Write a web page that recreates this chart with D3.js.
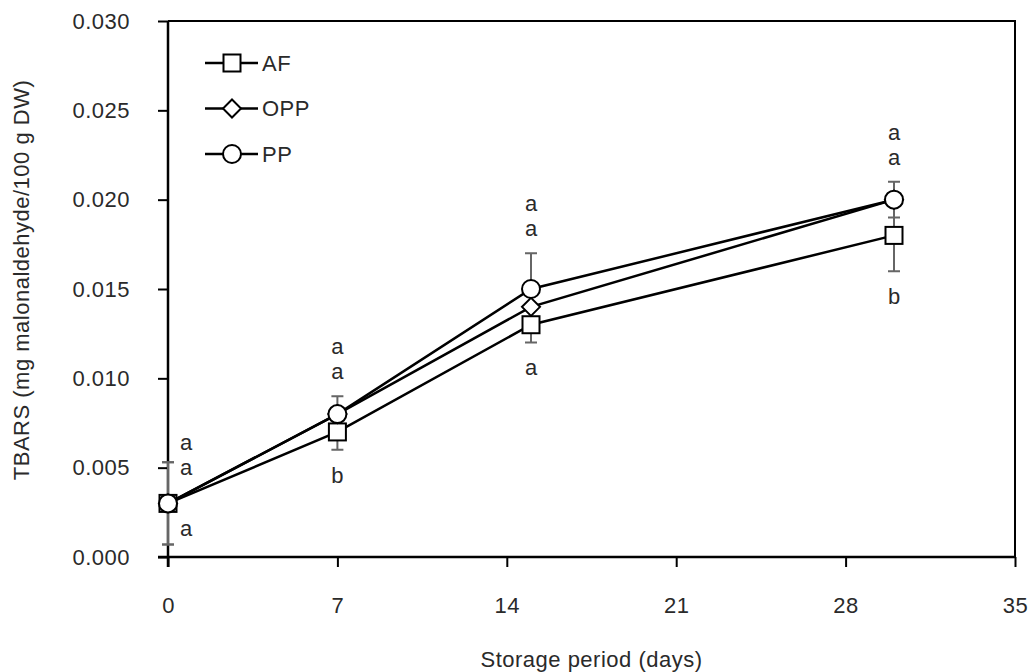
<!DOCTYPE html>
<html>
<head>
<meta charset="utf-8">
<script src="https://cdn.jsdelivr.net/npm/d3@7"></script>
<style>
  body { margin: 0; background: #fff; }
  svg text { font-family: "Liberation Sans", Arial, sans-serif; fill: #2a2a2a; }
</style>
</head>
<body>
<svg id="chart" width="1032" height="672"></svg>
<script>
// storage days and TBARS values
const days = [0, 7, 15, 30];
const afValues = [0.003, 0.007, 0.013, 0.018];
const oppValues = [0.003, 0.008, 0.014, 0.020];
const ppValues = [0.003, 0.008, 0.015, 0.020];
const afErrors = [0.0023, 0.001, 0.001, 0.002];
const ppErrors = [0.0023, 0.001, 0.002, 0.001];
const seriesNames = ["AF", "OPP", "PP"];
const lettersTop = ["a", "a", "a", "a"];
const lettersMid = ["a", "a", "a", "a"];
const lettersBottom = ["a", "b", "a", "b"];
const xTicks = [0, 7, 14, 21, 28, 35];
const yTicks = [0, 0.005, 0.010, 0.015, 0.020, 0.025, 0.030];

let svg = d3.select('#chart');
let width = +svg.attr('width');
let height = +svg.attr('height');
let margin = { top: 21, right: 17, bottom: 115, left: 168 };

let x = d3.scaleLinear()
  .domain([0, 35])
  .range([margin.left, width - margin.right]);
let y = d3.scaleLinear()
  .domain([0, 0.030])
  .range([height - margin.bottom, margin.top]);

const series = [
  { name: seriesNames[0], values: afValues, errors: afErrors, shape: "square" },
  { name: seriesNames[1], values: oppValues, errors: null, shape: "diamond" },
  { name: seriesNames[2], values: ppValues, errors: ppErrors, shape: "circle" }
];

const fontSize = 22;
const spacing = "0.5px";

// frame (top and right)
svg.append("path")
  .attr("d", `M${x(0)},${y(0.030)}H${x(35)}V${y(0)}`)
  .attr("fill", "none")
  .attr("stroke", "#000")
  .attr("stroke-width", 2);

// axes
let xAxis = g => g
  .attr("transform", `translate(0,${y(0)})`)
  .call(d3.axisBottom(x).tickValues(xTicks).tickSize(10).tickPadding(30).tickSizeOuter(0))
  .call(g => g.select(".domain").attr("stroke-width", 2.5).attr("d", `M${x(0) - 10},0H${x(35)}`))
  .call(g => g.selectAll(".tick line").attr("stroke-width", 2))
  .call(g => g.selectAll(".tick text")
    .attr("font-size", fontSize).attr("letter-spacing", spacing)
    .attr("font-family", null).attr("fill", "#2a2a2a"));

let yAxis = g => g
  .attr("transform", `translate(${x(0)},0)`)
  .call(d3.axisLeft(y).tickValues(yTicks).tickFormat(d3.format(".3f")).tickSize(10).tickPadding(28).tickSizeOuter(0))
  .call(g => g.select(".domain").attr("stroke-width", 2.5).attr("d", `M0,${y(0) + 10}V${y(0.030)}`))
  .call(g => g.selectAll(".tick line").attr("stroke-width", 2))
  .call(g => g.selectAll(".tick text")
    .attr("font-size", fontSize).attr("letter-spacing", spacing)
    .attr("font-family", null).attr("fill", "#2a2a2a"));

svg.append("g").call(xAxis);
svg.append("g").call(yAxis);

// error bars
const errG = svg.append("g")
  .attr("stroke", "#666")
  .attr("stroke-width", 2)
  .attr("fill", "none");
series.filter(s => s.errors).forEach(s => {
  days.forEach((d, i) => {
    let cx = x(d), hi = y(s.values[i] + s.errors[i]), lo = y(s.values[i] - s.errors[i]);
    errG.append("path")
      .attr("d", `M${cx},${hi}V${lo}M${cx - 6},${hi}H${cx + 6}M${cx - 6},${lo}H${cx + 6}`);
  });
});

// lines
const line = d3.line()
  .x((v, i) => x(days[i]))
  .y(v => y(v));
svg.append("g")
  .selectAll("path")
  .data(series)
  .join("path")
  .attr("d", s => line(s.values))
  .attr("fill", "none")
  .attr("stroke", "#000")
  .attr("stroke-width", 2.5);

// markers
function drawMarker(g, shape, cx, cy) {
  if (shape === "square") {
    g.append("rect")
      .attr("x", cx - 8.5).attr("y", cy - 8.5)
      .attr("width", 17).attr("height", 17);
  } else if (shape === "diamond") {
    g.append("path")
      .attr("d", `M${cx},${cy - 9}L${cx + 9},${cy}L${cx},${cy + 9}L${cx - 9},${cy}Z`);
  } else {
    g.append("circle")
      .attr("cx", cx).attr("cy", cy).attr("r", 9);
  }
}

const markG = svg.append("g")
  .attr("fill", "#fff")
  .attr("stroke", "#000")
  .attr("stroke-width", 2);
series.forEach(s => {
  s.values.forEach((v, i) => drawMarker(markG, s.shape, x(days[i]), y(v)));
});

// significance letters
const letterG = svg.append("g")
  .attr("font-size", fontSize)
  .attr("text-anchor", "middle");
days.forEach((d, i) => {
  let first = i === 0;
  let cx = x(d) + (first ? 18 : 0);
  let topAnchor = first ? y(ppValues[i]) - 11 : y(ppValues[i] + ppErrors[i]);
  let botAnchor = first ? y(afValues[i]) : y(afValues[i] - afErrors[i]);
  letterG.append("text").attr("x", cx).attr("y", topAnchor - 50).attr("dy", "0.35em").text(lettersTop[i]);
  letterG.append("text").attr("x", cx).attr("y", topAnchor - 25).attr("dy", "0.35em").text(lettersMid[i]);
  letterG.append("text").attr("x", cx).attr("y", botAnchor + 25).attr("dy", "0.35em").text(lettersBottom[i]);
});

// legend
const legend = svg.append("g");
series.forEach((s, i) => {
  let ly = 63 + i * 45.5;
  let g = legend.append("g");
  g.append("path")
    .attr("d", `M205,${ly}H258`)
    .attr("stroke", "#000")
    .attr("stroke-width", 2.5);
  let mg = g.append("g").attr("fill", "#fff").attr("stroke", "#000").attr("stroke-width", 2);
  drawMarker(mg, s.shape, 232, ly);
  g.append("text")
    .attr("x", 262)
    .attr("y", ly)
    .attr("dy", "0.35em")
    .attr("font-size", fontSize)
    .attr("letter-spacing", spacing)
    .text(s.name);
});

// axis titles
svg.append("text")
  .attr("x", (x(0) + x(35)) / 2)
  .attr("y", 667)
  .attr("text-anchor", "middle")
  .attr("font-size", fontSize)
  .attr("letter-spacing", spacing)
  .text("Storage period (days)");

svg.append("text")
  .attr("transform", `translate(29,280) rotate(-90)`)
  .attr("text-anchor", "middle")
  .attr("font-size", fontSize)
  .attr("letter-spacing", spacing)
  .text("TBARS (mg malonaldehyde/100 g DW)");
</script>
</body>
</html>
